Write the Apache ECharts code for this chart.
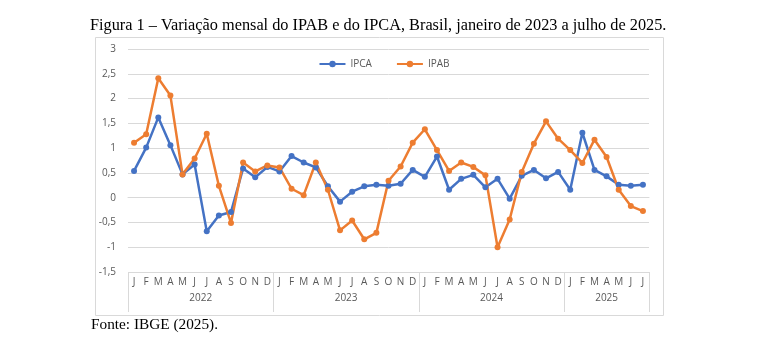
<!DOCTYPE html>
<html><head><meta charset="utf-8">
<script src="https://cdn.jsdelivr.net/npm/echarts@6/dist/echarts.min.js"></script>
<style>html,body{margin:0;padding:0;background:#fff}#c{width:768px;height:338px}</style>
</head><body><div id="c"></div>
<script>
const months = ['J','F','M','A','M','J','J','A','S','O','N','D'];
const years = ['2022','2023','2024','2025'];
const monthsPerYear = [12,12,12,7];
const ipca = [0.54,1.01,1.62,1.06,0.47,0.67,-0.68,-0.36,-0.29,0.59,0.41,0.62,
  0.53,0.84,0.71,0.61,0.23,-0.08,0.12,0.23,0.26,0.24,0.28,0.56,
  0.42,0.83,0.16,0.38,0.46,0.21,0.38,-0.02,0.44,0.56,0.39,0.52,
  0.16,1.31,0.56,0.43,0.26,0.24,0.26];
const ipab = [1.11,1.28,2.41,2.06,0.47,0.79,1.29,0.24,-0.51,0.71,0.53,0.65,
  0.61,0.18,0.05,0.71,0.16,-0.66,-0.46,-0.84,-0.71,0.34,0.63,1.11,
  1.38,0.96,0.54,0.71,0.62,0.45,-1.00,-0.44,0.52,1.09,1.54,1.19,
  0.96,0.70,1.17,0.82,0.16,-0.17,-0.27];
const yTicks = [-1.5,-1,-0.5,0,0.5,1,1.5,2,2.5,3];

const cats = [];
monthsPerYear.forEach((n,yi)=>{for(let i=0;i<n;i++)cats.push(years[yi]+'-'+i);});
const bounds=[0], centers=[];
let acc=0;
monthsPerYear.forEach(n=>{centers.push(acc+n/2);acc+=n;bounds.push(acc);});

const chart = echarts.init(document.getElementById('c'));
const txt = '#595959', line = '#d9d9d9';
chart.setOption({
  animation:false,
  title:[
    {text:'Figura 1 – Variação mensal do IPAB e do IPCA, Brasil, janeiro de 2023 a julho de 2025.',left:90,top:18,padding:0,
     textStyle:{fontFamily:'Liberation Serif',fontSize:16.3,fontWeight:'normal',color:'#000'}},
    {text:'Fonte: IBGE (2025).',left:91,top:317,padding:0,
     textStyle:{fontFamily:'Liberation Serif',fontSize:15.3,fontWeight:'normal',color:'#000'}}
  ],
  graphic:[{type:'rect',shape:{x:95.5,y:37.5,width:568,height:278},style:{fill:'none',stroke:line,lineWidth:1},silent:true,z:-1}],
  legend:{top:54,left:'center',itemWidth:26,itemHeight:8,itemGap:24,
    textStyle:{fontFamily:'Open Sans',fontSize:10,color:txt},data:['IPCA','IPAB']},
  grid:{left:128,right:119,top:49,bottom:66},
  xAxis:[
    {type:'category',data:cats,boundaryGap:true,
     axisLine:{show:true,lineStyle:{color:line}},axisTick:{show:false},
     axisLabel:{interval:0,margin:5,fontFamily:'Open Sans',fontSize:10,color:txt,
       formatter:v=>months[+v.split('-')[1]]}},
    {type:'value',min:0,max:bounds[bounds.length-1],position:'bottom',
     splitLine:{show:false},axisLine:{show:false},
     axisTick:{show:true,length:40,customValues:bounds,lineStyle:{color:line}},
     axisLabel:{margin:21,customValues:centers,fontFamily:'Open Sans',fontSize:10,color:txt,
       formatter:v=>{const i=centers.indexOf(v);return i>=0?years[i]:'';}}}
  ],
  yAxis:{type:'value',min:yTicks[0],max:yTicks[yTicks.length-1],interval:0.5,
    axisLine:{show:false},axisTick:{show:false},
    splitLine:{lineStyle:{color:line}},
    axisLabel:{margin:12,fontFamily:'Open Sans',fontSize:10,color:txt,
      formatter:v=>String(v).replace('.',',')}},
  series:[
    {name:'IPCA',type:'line',data:ipca,color:'#4472C4',symbol:'circle',symbolSize:6,
     lineStyle:{width:2.5},itemStyle:{color:'#4472C4'}},
    {name:'IPAB',type:'line',data:ipab,color:'#ED7D31',symbol:'circle',symbolSize:6,
     lineStyle:{width:2.5},itemStyle:{color:'#ED7D31'}}
  ]
});
</script></body></html>
